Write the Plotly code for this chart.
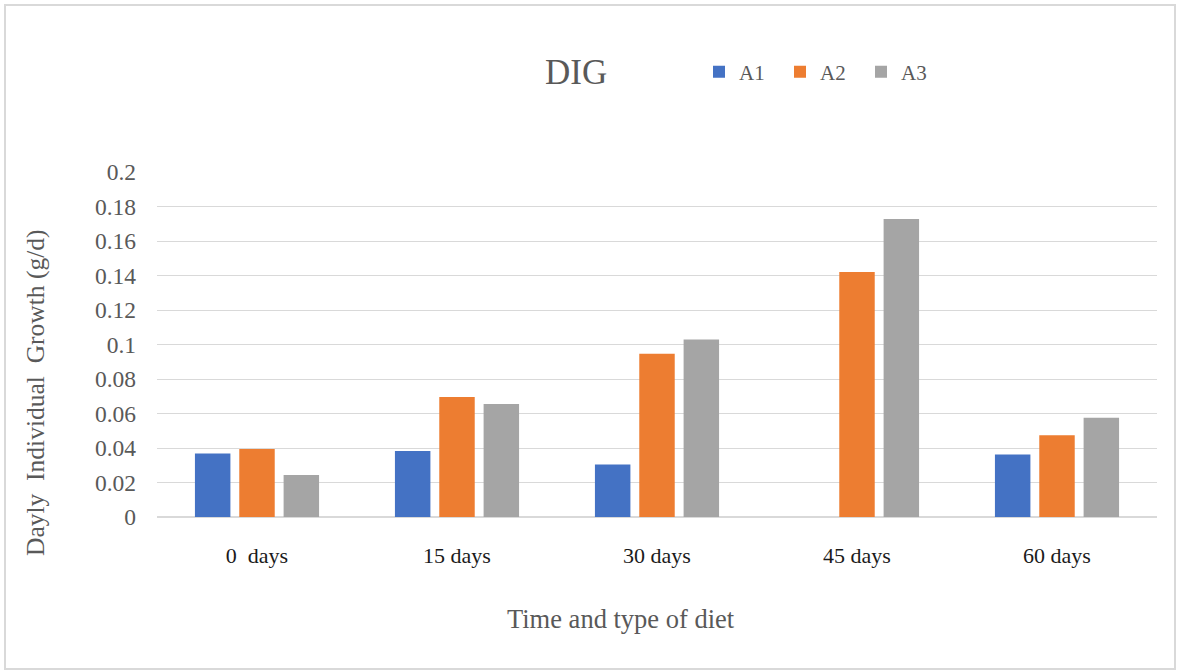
import plotly.graph_objects as go

# Daily individual growth (g/d) by sampling day and diet
categories = ["0  days", "15 days", "30 days", "45 days", "60 days"]
a1 = [0.0368, 0.0383, 0.0305, 0.0, 0.0363]
a2 = [0.0394, 0.0695, 0.0946, 0.1421, 0.0474]
a3 = [0.0243, 0.0655, 0.1029, 0.1728, 0.0575]
y_ticks = [0, 0.02, 0.04, 0.06, 0.08, 0.1, 0.12, 0.14, 0.16, 0.18, 0.2]
y_tick_text = ["0", "0.02", "0.04", "0.06", "0.08", "0.1", "0.12", "0.14", "0.16", "0.18", "0.2"]

series = [("A1", a1, "#4472C4"), ("A2", a2, "#ED7D31"), ("A3", a3, "#A5A5A5")]

SERIF = "Liberation Serif"
GREY = "#595959"
GRID = "#d9d9d9"

fig = go.Figure()
for name, vals, color in series:
    fig.add_trace(go.Bar(
        x=categories, y=vals, name=name,
        marker=dict(color=color, line=dict(width=0)),
    ))

W, H = 1177, 671
L, R, T, B = 157, 20, 172, 154
pw, ph = W - L - R, H - T - B


def px_x(px):
    return (px - L) / pw


def px_y(py):
    return (H - B - py) / ph


fig.update_layout(
    width=W, height=H,
    margin=dict(l=L, r=R, t=T, b=B, pad=0),
    paper_bgcolor="white", plot_bgcolor="white",
    barmode="group", bargap=0.335, bargroupgap=0.2,
    font=dict(family=SERIF, color=GREY),
    showlegend=True,
    legend=dict(
        orientation="h", x=px_x(699), xanchor="left",
        y=px_y(72), yanchor="middle",
        font=dict(family=SERIF, size=21, color=GREY),
        entrywidth=36, entrywidthmode="pixels",
        bgcolor="rgba(0,0,0,0)", borderwidth=0,
        traceorder="normal",
    ),
    xaxis=dict(
        type="category", showgrid=False, zeroline=False,
        showline=True, linecolor=GRID, linewidth=1,
        ticks="", tickfont=dict(family=SERIF, size=22, color="#1a1a1a"),
        ticklabelstandoff=19,
    ),
    yaxis=dict(
        range=[0, 0.2], tickvals=y_ticks, ticktext=y_tick_text,
        showgrid=True, gridcolor=GRID, gridwidth=1,
        zeroline=True, zerolinecolor=GRID, zerolinewidth=1.5,
        showline=False, ticks="",
        tickfont=dict(family=SERIF, size=23.5, color=GREY),
        ticklabelstandoff=20,
    ),
    shapes=[dict(
        type="rect", xref="paper", yref="paper",
        x0=px_x(5), x1=px_x(1175), y0=px_y(669), y1=px_y(5),
        line=dict(color=GRID, width=2), fillcolor="rgba(0,0,0,0)", layer="below",
    )],
    annotations=[
        dict(text="DIG", xref="paper", yref="paper", x=px_x(576), y=px_y(72),
             xanchor="center", yanchor="middle", showarrow=False,
             font=dict(family=SERIF, size=35, color=GREY)),
        dict(text="Time and type of diet", xref="paper", yref="paper",
             x=px_x(621), y=px_y(619), xanchor="center", yanchor="middle",
             showarrow=False, font=dict(family=SERIF, size=26.5, color=GREY)),
        dict(text="Dayly  Individual  Growth (g/d)", xref="paper", yref="paper",
             x=px_x(35), y=px_y(393), xanchor="center", yanchor="middle",
             textangle=-90, showarrow=False,
             font=dict(family=SERIF, size=25.5, color=GREY)),
    ],
)

fig.write_html("out.html")
